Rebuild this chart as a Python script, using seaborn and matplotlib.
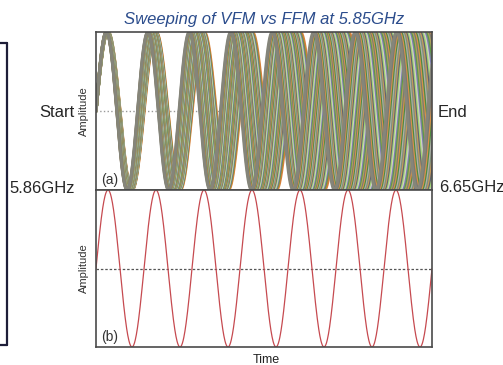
#!/usr/bin/env python3
# -*- coding: utf-8 -*-
# VFM vs FFM sweep picture, top = many swept carriers, bottom = fixed one

import numpy as np
import pandas as pd
import matplotlib
matplotlib.use('Agg')
import matplotlib.pyplot as plt
from matplotlib.lines import Line2D
import seaborn as sns

# cycles across the time window for each swept (VFM) trace, start -> end
vfm_cycles = [8.10, 8.07, 8.04, 8.01, 7.98, 7.95, 7.92, 7.89, 7.86, 7.83,
              7.80, 7.77, 7.74, 7.71, 7.68, 7.65, 7.62, 7.59, 7.56, 7.53,
              7.50, 7.47, 7.44, 7.41, 7.38, 7.35, 7.32, 7.29, 7.26, 7.23,
              7.20, 7.17, 7.14, 7.11, 7.08, 7.05, 7.02, 6.99]
# fixed (FFM) trace
ffm_cycles = 7.0

title = 'Sweeping of VFM vs FFM at 5.85GHz'
start_label = 'Start'
end_label = 'End'
start_freq = '5.86GHz'
end_freq = '6.65GHz'

stripe_colors = ['#7a7a72', '#b0a060', '#5f9a45', '#7c7cac', '#cfcfc6',
                 '#a2d873', '#626270', '#c49a5c', '#7d8f7d', '#b0b0a8',
                 '#4f8a40', '#d8914a']

sns.set_style('white')
plt.rcParams['font.family'] = ['Liberation Sans', 'DejaVu Sans']

t = np.linspace(0, 1, 900)

# long table for the swept traces, slowest first so the fast ones sit on top
rows = []
n = len(vfm_cycles)
for i in range(n - 1, -1, -1):
    c = vfm_cycles[i]
    rows.append(pd.DataFrame({'t': t, 'amp': np.sin(2 * np.pi * c * t), 'trace': n - 1 - i}))
vfm = pd.concat(rows, ignore_index=True)

pal = [stripe_colors[i % len(stripe_colors)] for i in range(n)]
pal[0] = '#d9843a'
pal[1] = '#c87a3e'
pal[-1] = '#85857a'

ffm = pd.DataFrame({'t': t, 'amp': np.sin(2 * np.pi * ffm_cycles * t)})

fig = plt.figure(figsize=(5.03, 3.65), dpi=100)
ax1 = fig.add_axes([96 / 503, 1 - 190 / 365, 336 / 503, 158 / 365])
ax2 = fig.add_axes([96 / 503, 1 - 347 / 365, 336 / 503, 157 / 365])

ax1.axhline(0, ls=':', color='#999999', lw=1.0, zorder=0)
sns.lineplot(data=vfm, x='t', y='amp', hue='trace', palette=pal, legend=False,
             estimator=None, sort=False, lw=2.2, ax=ax1)

ax2.axhline(0, ls=(0, (2, 1.5)), color='#555555', lw=0.9, zorder=0)
sns.lineplot(data=ffm, x='t', y='amp', color='#c64a50', lw=0.9,
             estimator=None, sort=False, ax=ax2)

for ax, tag in [(ax1, '(a)'), (ax2, '(b)')]:
    ax.set_xlim(0, 1)
    ax.set_ylim(-1.0, 1.0)
    ax.set_xticks([])
    ax.set_yticks([])
    ax.set_xlabel('')
    ax.set_ylabel('Amplitude', fontsize=8, labelpad=5, color='#333333')
    for s in ax.spines.values():
        s.set_color('#4a4a4a')
        s.set_linewidth(1.2)
    ax.text(0.015, 0.02, tag, transform=ax.transAxes, fontsize=10,
            color='#333333', ha='left', va='bottom')
ax1.spines['bottom'].set_zorder(5)

fig.text(266 / 503, 1 - 363 / 365, 'Time', fontsize=9, ha='center',
         va='baseline', color='#222222')
fig.text(264 / 503, 1 - 24 / 365, title, fontsize=12, style='italic',
         color='#2b4c8c', ha='center', va='baseline')

fig.text(75 / 503, 1 - 117 / 365, start_label, fontsize=12, ha='right', va='baseline')
fig.text(75 / 503, 1 - 193 / 365, start_freq, fontsize=12, ha='right', va='baseline')
fig.text(438 / 503, 1 - 117 / 365, end_label, fontsize=12, ha='left', va='baseline')
fig.text(439 / 503, 1 - 192 / 365, end_freq, fontsize=12, ha='left', va='baseline')

# bracket edge on the far left
bx = 7 / 503
ytop, ybot = 1 - 43 / 365, 1 - 345 / 365
for xs, ys in [([0, bx], [ytop, ytop]), ([bx, bx], [ytop, ybot]), ([0, bx], [ybot, ybot])]:
    fig.add_artist(Line2D(xs, ys, color='#1e1e38', lw=1.6, transform=fig.transFigure))

fig.savefig('out.png', dpi=100)
